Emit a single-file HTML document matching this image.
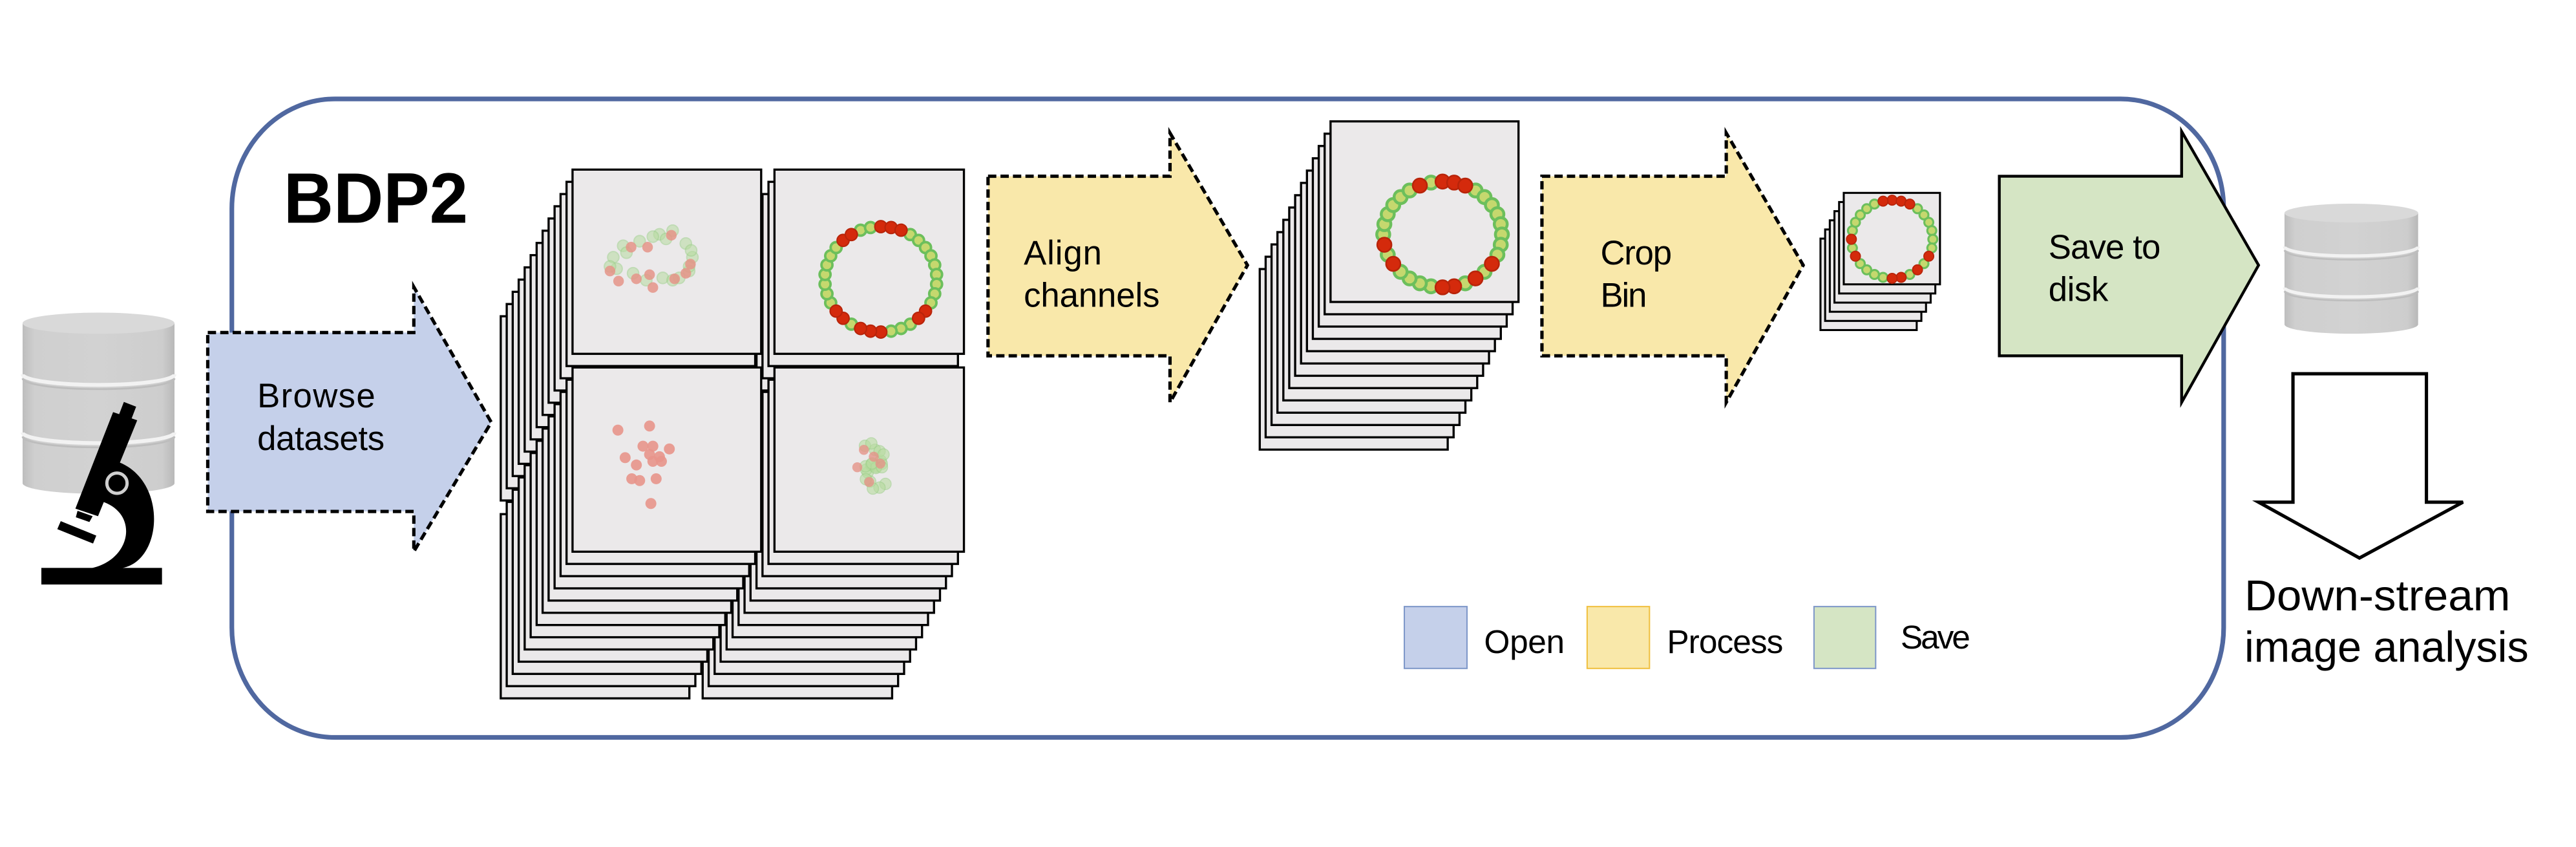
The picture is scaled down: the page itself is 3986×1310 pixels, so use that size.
<!DOCTYPE html>
<html><head><meta charset="utf-8"><style>
html,body{margin:0;padding:0;background:#fff;}
svg{display:block;}
text{font-family:"Liberation Sans Narrow","Liberation Sans",sans-serif;fill:#000;}
</style></head><body>
<svg id="s" xmlns="http://www.w3.org/2000/svg" width="3986" height="1310" viewBox="0 0 1550 509.4" preserveAspectRatio="none">
<defs>
<linearGradient id="cyl" x1="0" x2="1" y1="0" y2="0">
<stop offset="0" stop-color="#bdbdbd"/><stop offset="0.08" stop-color="#cfcfcf"/><stop offset="0.5" stop-color="#d2d2d2"/><stop offset="0.92" stop-color="#cdcdcd"/><stop offset="1" stop-color="#b8b8b8"/>
</linearGradient>
</defs>
<rect x="0" y="0" width="1550" height="509.4" fill="#fff"/>
<rect x="139.5" y="59.5" width="1198.5" height="384" rx="62" ry="66" fill="none" stroke="#5068a0" stroke-width="2.8"/>
<text x="170.6" y="134" font-size="43" font-weight="bold" textLength="111" lengthAdjust="spacingAndGlyphs">BDP2</text>

<g id="db1"></g>
<g id="micro" transform="scale(0.38886) translate(0,450) scale(0.33333)">
<polygon points="575,515 632,537 607,602 550,580" fill="#000"/>
<polygon points="525,562 637,600 455,1045 350,1010" fill="#000"/>
<polygon points="360,1020 430,1045 415,1072 352,1050" fill="#000"/>
<polygon points="282,1068 447,1135 432,1172 266,1105" fill="#000"/>
<path d="M540,790 C 780,870 760,1260 560,1287 L 420,1287 C 610,1250 650,1030 468,975 Z" fill="#000"/>
<circle cx="543" cy="892" r="47" fill="#000" stroke="#cfcfcf" stroke-width="15"/>
<rect x="192" y="1285" width="560" height="77" fill="#000"/>
</g>

<!-- Browse arrow -->
<polygon points="125,200 249,200 249,172.6 295.6,254 249,331.7 249,307.6 125,307.6" fill="#c5d0ea" stroke="#000" stroke-width="2" stroke-dasharray="5,2.5"/>
<text x="154.8" y="245" font-size="20.5" textLength="71">Browse</text>
<text x="154.8" y="270.6" font-size="20.5" textLength="76.6">datasets</text>

<g id="stacks"></g>

<!-- Align arrow -->
<polygon points="594.5,106 704,106 704,80 750.6,159.5 704,242 704,214 594.5,214" fill="#f9e8aa" stroke="#000" stroke-width="2" stroke-dasharray="5,2.5"/>
<text x="616" y="159" font-size="20.5" textLength="47">Align</text>
<text x="616" y="184.5" font-size="20.5" textLength="81.8">channels</text>

<!-- Crop arrow -->
<polygon points="927.8,106 1038.7,106 1038.7,80 1085,159.5 1038.7,242 1038.7,214 927.8,214" fill="#f9e8aa" stroke="#000" stroke-width="2" stroke-dasharray="5,2.5"/>
<text x="963" y="159" font-size="20.5" textLength="43">Crop</text>
<text x="963" y="184.5" font-size="20.5" textLength="28">Bin</text>

<!-- Save arrow -->
<polygon points="1203,106 1312.7,106 1312.7,79 1359,159.5 1312.7,242 1312.7,214 1203,214" fill="#d5e5c4" stroke="#000" stroke-width="1.7"/>
<text x="1232.6" y="155.5" font-size="20.5" textLength="67.5">Save to</text>
<text x="1232.6" y="181" font-size="20.5" textLength="36">disk</text>

<g id="db2"></g>

<!-- down arrow -->
<polygon points="1379.7,224.8 1460,224.8 1460,302 1482,302 1419.7,335.6 1359,302 1379.7,302" fill="#fff" stroke="#000" stroke-width="2"/>
<text x="1350.5" y="367" font-size="26" textLength="160" lengthAdjust="spacingAndGlyphs">Down-stream</text>
<text x="1350.5" y="398" font-size="26" textLength="171" lengthAdjust="spacingAndGlyphs">image analysis</text>

<!-- legend -->
<rect x="845" y="364.8" width="37.7" height="37.2" fill="#c5d0ea" stroke="#7f98c9" stroke-width="0.8"/>
<text x="893" y="392.8" font-size="20" textLength="48.5">Open</text>
<rect x="955" y="364.8" width="37.5" height="37.2" fill="#f9e8aa" stroke="#f0c040" stroke-width="0.8"/>
<text x="1003" y="392.8" font-size="20" textLength="70">Process</text>
<rect x="1091.5" y="364.8" width="37.1" height="37.2" fill="#d5e5c4" stroke="#7f98c9" stroke-width="0.8"/>
<text x="1143.6" y="390" font-size="20" textLength="42">Save</text>
</svg>
<script>
(function(){
var NS="http://www.w3.org/2000/svg";
function el(parent,tag,attrs){var e=document.createElementNS(NS,tag);for(var k in attrs)e.setAttribute(k,attrs[k]);parent.appendChild(e);return e;}
function db(g,x0,x1,ys){
  var gg=document.getElementById(g);var w=x1-x0,cx=(x0+x1)/2,rx=w/2,ry=w*0.07;
  var top=ys[0]+ry,bot=ys[ys.length-1]-ry;
  el(gg,"path",{d:"M"+x0+","+top+" L"+x0+","+bot+" A"+rx+","+ry+" 0 0 0 "+x1+","+bot+" L"+x1+","+top+" Z",fill:"url(#cyl)"});
  for(var i=1;i<ys.length-1;i++){
    var y=ys[i];
    el(gg,"path",{d:"M"+x0+","+(y-ry*0.3)+" A"+rx+","+ry+" 0 0 0 "+x1+","+(y-ry*0.3),fill:"none",stroke:"#f2f2f2","stroke-width":w*0.025});
    el(gg,"path",{d:"M"+x0+","+(y+ry*0.1)+" A"+rx+","+ry+" 0 0 0 "+x1+","+(y+ry*0.1),fill:"none",stroke:"#bdbdbd","stroke-width":w*0.012});
  }
  el(gg,"ellipse",{cx:cx,cy:top,rx:rx,ry:ry,fill:"#d9d9d9"});
}
db("db1",13.6,105,[188,227,262,297]);
db("db2",1374.6,1455,[122.5,150,174.6,200.7]);

var S=document.getElementById("stacks");
function frame(x,y,w,h,sw){el(S,"rect",{x:x,y:y,width:w,height:h,fill:"#ebe9ea",stroke:"#000","stroke-width":sw});}
function stack(x,y,w,h,n,dx,dy,sw){for(var i=n;i>=1;i--)frame(x+i*dx,y+i*dy,w,h,sw);frame(x,y,w,h,sw);}
function ring(cx,cy,rx,ry,n,br,reds){
  for(var i=0;i<n;i++){var a=-Math.PI/2+2*Math.PI*i/n;var x=cx+rx*Math.cos(a),y=cy+ry*Math.sin(a);
    if(reds.indexOf(i)<0)el(S,"circle",{cx:x,cy:y,r:br,fill:"#c5d86e",stroke:"#6cbf5c","stroke-width":br*0.45});}
  for(var i=0;i<n;i++){var a=-Math.PI/2+2*Math.PI*i/n;var x=cx+rx*Math.cos(a),y=cy+ry*Math.sin(a);
    if(reds.indexOf(i)>=0)el(S,"circle",{cx:x,cy:y,r:br*1.1,fill:"#d42a0c",stroke:"#b8240a","stroke-width":br*0.25});}
}
function Z(x,y){return [x/0.98/2.5716,(y/1.41+100)/2.5716];}
var W=113.5,H=110.8,dx=-3.6,dy=7.35;
stack(466,102,114,H,12,dx,dy,1.3);
stack(344.5,102,W,H,12,dx,dy,1.3);
stack(466,221,114,H,12,dx,dy,1.3);
stack(344.5,221,W,H,12,dx,dy,1.3);
ring(530,168,33.7,31.7,34,3.3,[0,1,2,12,13,17,18,19,21,22,30,31]);
var gpts=[[930,420],[945,395],[970,385],[1000,370],[1020,362],[1040,390],[1050,420],[1045,450],[1030,465],[1005,465],[980,470],[960,455],[935,445],[925,440],[1010,380],[990,375],[1048,405],[1045,440],[950,410],[1020,470]];
gpts.forEach(function(p){var q=Z(p[0],p[1]);el(S,"circle",{cx:q[0],cy:q[1],r:3.4,fill:"#b8dca0",opacity:0.55,stroke:"#9ed08a","stroke-width":0.8});});
var rpts=[[957,398],[982,398],[1018,372],[1047,435],[925,450],[938,472],[965,467],[985,458],[990,486],[1023,467],[1040,455]];
rpts.forEach(function(p){var q=Z(p[0],p[1]);el(S,"circle",{cx:q[0],cy:q[1],r:3.2,fill:"#e59488",opacity:0.85});});
var spts=[[937,797],[985,788],[975,832],[990,832],[1015,838],[948,857],[1000,855],[990,865],[965,873],[958,903],[970,907],[995,903],[987,957],[1003,865],[985,850]];
spts.forEach(function(p){var q=Z(p[0],p[1]);el(S,"circle",{cx:q[0],cy:q[1],r:3.3,fill:"#e8958b",opacity:0.9});});
var c=Z(1325,875);
for(var i=0;i<22;i++){var a=i*2.4,r=(i%4)*3+1.5;el(S,"circle",{cx:c[0]+r*Math.cos(a)*1.1,cy:c[1]+r*Math.sin(a)*1.3,r:3.4,fill:"#b8dca0",opacity:0.6,stroke:"#9ed08a","stroke-width":0.6});}
[[1310,840],[1325,855],[1300,878],[1335,870],[1318,910]].forEach(function(p){var q=Z(p[0],p[1]);el(S,"circle",{cx:q[0],cy:q[1],r:3,fill:"#e59488",opacity:0.8});});
stack(800.6,73,113.1,108.6,12,-3.55,7.4,1.3);
ring(868,141,35.7,31.8,32,3.9,[0,1,2,11,13,15,16,21,23,30]);
stack(1109.4,116,57.9,55,5,-2.8,5.5,1.2);
ring(1138.5,143.9,24.5,23.5,28,2.7,[0,1,2,9,11,13,14,19,21,27]);
})();
</script>
</body></html>
